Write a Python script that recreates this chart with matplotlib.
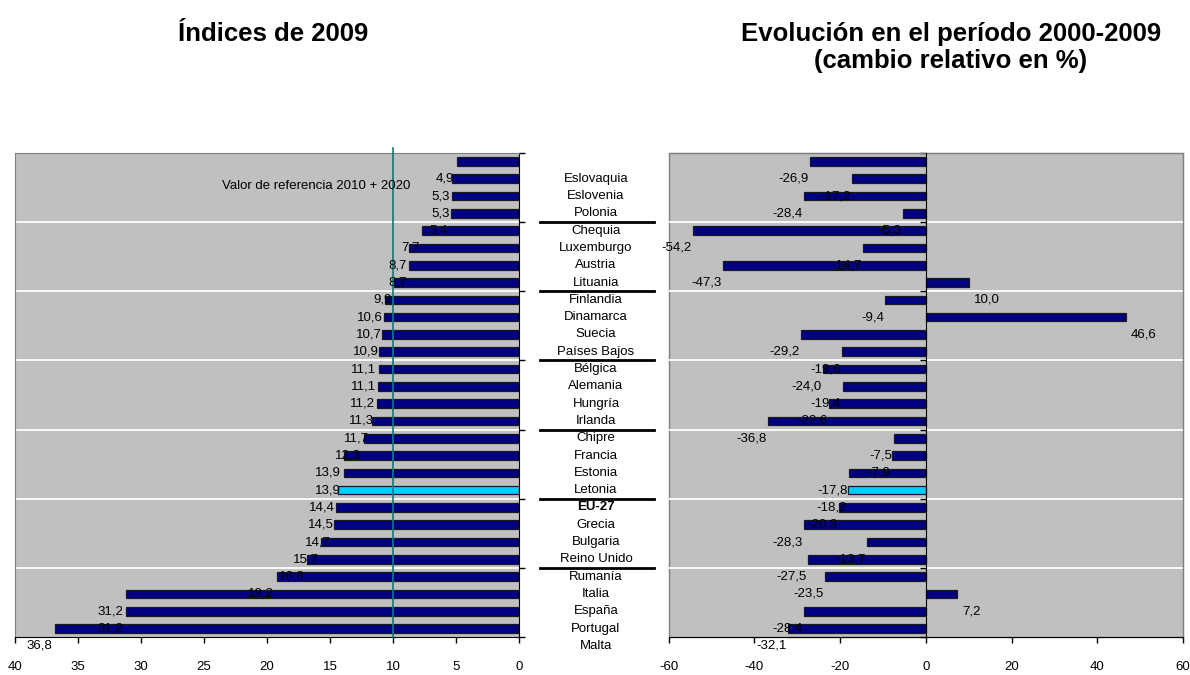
import numpy as np
import matplotlib
matplotlib.use("Agg")
import matplotlib.pyplot as plt
from matplotlib.transforms import blended_transform_factory
from matplotlib.patches import Rectangle

plt.rcParams['font.family'] = ['Liberation Sans', 'DejaVu Sans']

# ---------------- data ----------------
categories = ["Eslovaquia", "Eslovenia", "Polonia", "Chequia", "Luxemburgo", "Austria",
              "Lituania", "Finlandia", "Dinamarca", "Suecia", "Países Bajos", "Bélgica",
              "Alemania", "Hungría", "Irlanda", "Chipre", "Francia", "Estonia", "Letonia",
              "EU-27", "Grecia", "Bulgaria", "Reino Unido", "Rumanía", "Italia", "España",
              "Portugal", "Malta"]
indices_2009 = [4.9, 5.3, 5.3, 5.4, 7.7, 8.7, 8.7, 9.9, 10.6, 10.7, 10.9, 11.1, 11.1, 11.2,
                11.3, 11.7, 12.3, 13.9, 13.9, 14.4, 14.5, 14.7, 15.7, 16.8, 19.2, 31.2, 31.2, 36.8]
cambio_2000_2009 = [-26.9, -17.2, -28.4, -5.3, -54.2, -14.7, -47.3, 10.0, -9.4, 46.6, -29.2,
                    -19.6, -24.0, -19.4, -22.6, -36.8, -7.5, -7.9, -17.8, -18.2, -20.3, -28.3,
                    -13.7, -27.5, -23.5, 7.2, -28.4, -32.1]
highlight_index = 19
reference_value = 10
reference_label = "Valor de referencia 2010 + 2020"
left_ticks = list(range(0, 41, 5))
right_ticks = list(range(-60, 61, 20))
title_left = "Índices de 2009"
title_right_1 = "Evolución en el período 2000-2009"
title_right_2 = "(cambio relativo en %)"

# ---------------- style ----------------
W, H = 1190, 675
def fx(px): return px / W
def fy(py): return 1 - py / H

NAVY = "#000080"
CYAN = "#00CCFF"
BG = "#C0C0C0"
BORDER = "#808080"
FS = 9.5

n = len(categories)
rows = np.arange(1, n + 1)
colors = [CYAN if i == highlight_index else NAVY for i in range(n)]
fmt = lambda v: f"{v:.1f}".replace(".", ",")
grid_rows = np.arange(4.5, 28.5, 4)

fig = plt.figure(figsize=(W / 100, H / 100), dpi=100)
top_px, bot_px = 152.8, 637.2
ax1 = fig.add_axes([fx(15), fy(bot_px), (519 - 15) / W, (bot_px - top_px) / H])
ax2 = fig.add_axes([fx(668.5), fy(bot_px), (1183 - 668.5) / W, (bot_px - top_px) / H])

for ax in (ax1, ax2):
    ax.set_facecolor(BG)
    ax.set_ylim(28.5, 0.5)
    for g in grid_rows:
        ax.axhline(g, color="white", lw=1.3, zorder=1)

# ---------- left panel ----------
ax1.barh(rows, indices_2009, height=0.5, color=colors, edgecolor="#1a1a1a", linewidth=0.9, zorder=2)
ax1.set_xlim(40, 0)
ax1.set_xticks(left_ticks)
ax1.set_xticklabels([str(t) for t in left_ticks], fontsize=FS)
ax1.tick_params(axis="x", direction="out", length=4, pad=13, width=1)
ax1.yaxis.tick_right()
ax1.set_yticks(np.arange(0.5, 29, 4))
ax1.tick_params(axis="y", direction="out", length=4, labelright=False, labelleft=False, width=1)
for s in ("left", "top"):
    ax1.spines[s].set_color(BORDER)
for s in ("right", "bottom"):
    ax1.spines[s].set_color("black")

ax1.plot([reference_value, reference_value], [0.2, 28.5], color="#008080", lw=1.2,
         clip_on=False, zorder=3)
ax1.text(8.6, 2.42, reference_label, ha="right", va="center", fontsize=FS, zorder=4)

for i, v in enumerate(indices_2009):
    ax1.annotate(fmt(v), xy=(v, rows[i] + 1), xytext=(-2, 0), textcoords="offset points",
                 ha="right", va="center", fontsize=FS, annotation_clip=False, zorder=4)

# ---------- right panel ----------
ax2.barh(rows, cambio_2000_2009, height=0.5, color=colors, edgecolor="#1a1a1a", linewidth=0.9, zorder=2)
ax2.set_xlim(-60, 60)
ax2.set_xticks(right_ticks)
ax2.set_xticklabels([str(t) for t in right_ticks], fontsize=FS)
ax2.tick_params(axis="x", direction="out", length=4, pad=13, width=1)
ax2.spines["left"].set_position(("data", 0))
ax2.spines["left"].set_color("black")
ax2.spines["left"].set_zorder(3)
ax2.set_yticks(np.arange(0.5, 29, 4))
ax2.tick_params(axis="y", direction="out", length=4, labelleft=False, width=1)
for s in ("right", "top"):
    ax2.spines[s].set_color(BORDER)
ax2.spines["bottom"].set_color("black")
ax2.add_patch(Rectangle((0, 0), 1, 1, transform=ax2.transAxes, fill=False,
                        edgecolor=BORDER, lw=1, zorder=0.9, clip_on=False))

for i, v in enumerate(cambio_2000_2009):
    if v < 0:
        ax2.annotate(fmt(v), xy=(v, rows[i] + 1), xytext=(-1, 0), textcoords="offset points",
                     ha="right", va="center", fontsize=FS, annotation_clip=False, zorder=4)
    else:
        ax2.annotate(fmt(v), xy=(v, rows[i] + 1), xytext=(4, 0), textcoords="offset points",
                     ha="left", va="center", fontsize=FS, annotation_clip=False, zorder=4)

# ---------- category labels between panels ----------
trans = blended_transform_factory(fig.transFigure, ax1.transData)
for i, c in enumerate(categories):
    ax1.text(fx(596), rows[i] + 1, c, transform=trans, ha="center", va="center",
             fontsize=FS, fontweight="bold" if c == "EU-27" else "normal", clip_on=False)
for g in grid_rows:
    ax1.plot([fx(540), fx(654)], [g, g], transform=trans, color="black", lw=2, clip_on=False)

# ---------- titles ----------
fig.text(fx(273.5), fy(41), title_left, ha="center", va="baseline", fontsize=18.5, fontweight="bold")
fig.text(fx(951), fy(41), title_right_1, ha="center", va="baseline", fontsize=18.5, fontweight="bold")
fig.text(fx(951), fy(68), title_right_2, ha="center", va="baseline", fontsize=18.5, fontweight="bold")

fig.savefig("out.png", dpi=100)
